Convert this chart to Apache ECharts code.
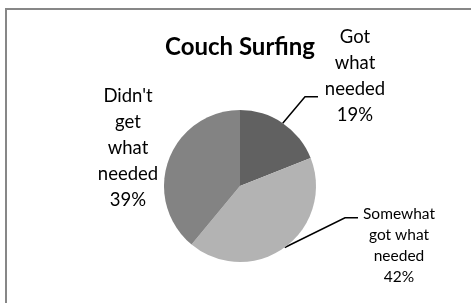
<!DOCTYPE html>
<html>
<head>
<meta charset="utf-8">
<script src="https://cdn.jsdelivr.net/npm/echarts@6/dist/echarts.min.js"></script>
<style>
  html, body { margin: 0; padding: 0; background: #fff; }
  #chart { width: 471px; height: 303px; }
</style>
</head>
<body>
<div id="chart"></div>
<script>
  // slice names and shares in %
  var categories = ['Got what needed', 'Somewhat got what needed', "Didn't get what needed"];
  var values = [19, 42, 39];
  var colors = ['#616161', '#b3b3b3', '#838383'];
  // how each name is wrapped in the label
  var labelLines = [
    ['Got', 'what', 'needed'],
    ['Somewhat', 'got what', 'needed'],
    ["Didn't", 'get', 'what', 'needed']
  ];

  var myChart = echarts.init(document.getElementById('chart'));

  // label anchor (centre of the label block), same order as categories
  var labelPos = [
    { x: 355, y: 95 },
    { x: 399, y: 219 },
    { x: 128, y: 148 }
  ];

  var seriesData = categories.map(function (name, i) {
    return {
      name: name,
      value: values[i],
      itemStyle: { color: colors[i] },
      labelLine: { show: i !== 2, length2: 13, minTurnAngle: 0 }
    };
  });

  var clear = 'rgba(255,255,255,0)';

  var option = {
    animation: false,
    textStyle: { fontFamily: 'Lato' },
    title: {
      text: 'Couch Surfing',
      left: 240,
      top: 47,
      padding: 0,
      textAlign: 'center',
      textVerticalAlign: 'middle',
      textStyle: { fontFamily: 'Lato', fontSize: 24, fontWeight: 'bold', color: '#000' }
    },
    graphic: [{
      type: 'rect',
      shape: { x: 6, y: 9, width: 500, height: 320 },
      style: { fill: 'none', stroke: '#878787', lineWidth: 2 },
      silent: true,
      z: -1
    }],
    series: [{
      type: 'pie',
      center: [240, 186],
      radius: 76,
      startAngle: 90,
      clockwise: true,
      data: seriesData,
      label: {
        show: true,
        position: 'outside',
        color: '#000',
        fontFamily: 'Lato',
        align: 'center',
        formatter: function (p) {
          var i = p.dataIndex;
          var lines = labelLines[i].concat([p.value + '%']);
          if (i === 0) {
            return lines.map(function (s) { return '{big|' + s + '}'; }).join('\n') + '\n{gapBottom| }';
          }
          if (i === 1) {
            return '{gapTop| }\n' + lines.map(function (s) { return '{small|' + s + '}'; }).join('\n');
          }
          return lines.map(function (s) { return '{big2|' + s + '}'; }).join('\n');
        },
        rich: {
          big: { fontFamily: 'Lato', fontSize: 18.5, lineHeight: 26, color: '#000' },
          big2: { fontFamily: 'Lato', fontSize: 18.5, lineHeight: 25.8, color: '#000' },
          small: { fontFamily: 'Lato', fontSize: 15.5, lineHeight: 21, color: '#000' },
          gapBottom: { fontSize: 10, width: 74, height: 38, lineHeight: 38, backgroundColor: clear },
          gapTop: { fontSize: 10, width: 82, height: 52, lineHeight: 52, backgroundColor: clear }
        }
      },
      labelLine: {
        lineStyle: { color: '#000', width: 1.5 }
      },
      labelLayout: function (params) {
        var p = labelPos[params.dataIndex];
        return { x: p.x, y: p.y, align: 'center', verticalAlign: 'middle' };
      },
      emphasis: { disabled: true }
    }]
  };

  myChart.setOption(option);
</script>
</body>
</html>
